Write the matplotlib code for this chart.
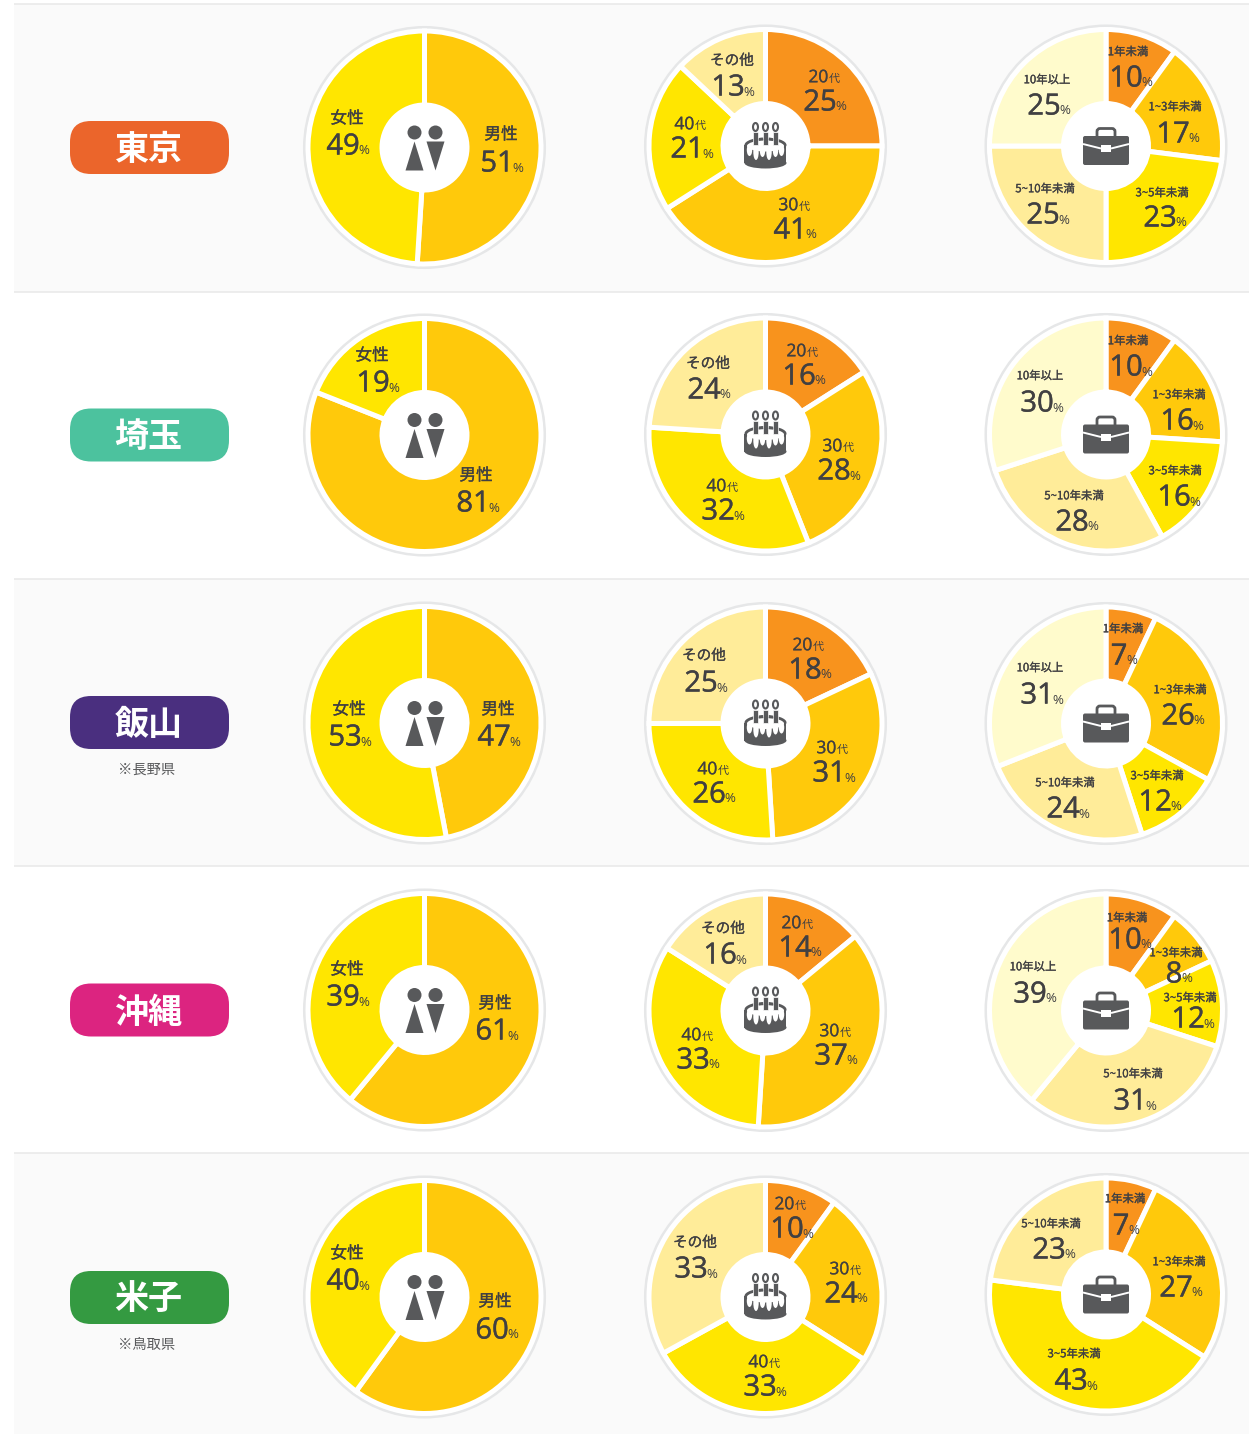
import matplotlib
matplotlib.use("Agg")
import matplotlib.pyplot as plt
import matplotlib.patheffects as pe
from matplotlib.patches import Circle, Ellipse, FancyBboxPatch, Polygon, Rectangle

# ---------- data ----------
cities = ["東京", "埼玉", "飯山", "沖縄", "米子"]
city_notes = ["", "", "※長野県", "", "※鳥取県"]
city_colors = ["#EB652B", "#4CC29E", "#4A2F7F", "#DC2480", "#349A41"]

gender_labels = ["男性", "女性"]
gender_values = [[51, 49], [81, 19], [47, 53], [61, 39], [60, 40]]

age_labels = ["20代", "30代", "40代", "その他"]
age_values = [[25, 41, 21, 13], [16, 28, 32, 24], [18, 31, 26, 25],
              [14, 37, 33, 16], [10, 24, 33, 33]]

tenure_labels = ["1年未満", "1~3年未満", "3~5年未満", "5~10年未満", "10年以上"]
tenure_values = [[10, 17, 23, 25, 25], [10, 16, 16, 28, 30], [7, 26, 12, 24, 31],
                 [10, 8, 12, 31, 39], [7, 27, 43, 23, 0]]

gender_colors = ["#FFC90B", "#FFE600"]
age_colors = ["#F8931D", "#FFC90B", "#FFE600", "#FFEC99"]
tenure_colors = ["#F8931D", "#FFC90B", "#FFE600", "#FFEC99", "#FFFBCC"]

# ---------- layout (pixel positions of the text: label x, y, number x, y) ----------
W, H = 1249, 1434
row_tops = [4, 292, 579, 866, 1153, 1434]
row_shaded = [True, False, True, False, True]
pill_y = [147.5, 435, 722.5, 1010, 1297.5]
col_x = [424.5, 765.5, 1106]
col_y = [[147.5, 435, 723, 1010, 1297], [146, 434.5, 723.5, 1010.5, 1297],
         [146, 434.5, 723.5, 1010.5, 1294.5]]

gender_pos = [
    [(501, 134, 502, 161), (347, 118, 348, 144)],
    [(476, 475, 478, 501), (372, 355, 378, 381)],
    [(498, 709, 499, 735), (349, 709, 350, 735)],
    [(495, 1003, 497, 1029), (347, 969, 348, 995)],
    [(495, 1301, 497, 1328), (347, 1253, 348, 1279)],
]
age_pos = [
    [(824, 76, 825, 100), (794, 204, 795, 228), (690, 123, 692, 147), (732, 60, 733, 85)],
    [(802, 350, 804, 374), (838, 445, 839, 469), (722, 485, 723, 509), (708, 363, 709, 388)],
    [(808, 644, 810, 668), (832, 747, 834, 771), (713, 768, 714, 792), (704, 655, 706, 681)],
    [(797, 922, 800, 946), (835, 1030, 836, 1054), (697, 1034, 698, 1058), (723, 928, 725, 953)],
    [(790, 1203, 792, 1227), (845, 1268, 846, 1292), (764, 1361, 765, 1385), (695, 1242, 696, 1267)],
]
tenure_pos = [
    [(1128, 51, 1131, 76), (1175, 106, 1178, 132), (1162, 192, 1165, 216), (1045, 188, 1048, 213), (1047, 79, 1049, 104)],
    [(1128, 340, 1131, 365), (1179, 394, 1182, 419), (1175, 470, 1179, 495), (1074, 495, 1077, 520), (1040, 375, 1042, 401)],
    [(1123, 628, 1124, 654), (1180, 689, 1183, 714), (1157, 775, 1160, 800), (1065, 782, 1068, 807), (1040, 667, 1042, 693)],
    [(1127, 917, 1130, 938), (1176, 952, 1179, 972), (1190, 997, 1193, 1017), (1133, 1073, 1135, 1099), (1033, 966, 1035, 992)],
    [(1125, 1198, 1126, 1224), (1179, 1261, 1181, 1286), (1074, 1353, 1076, 1379), (1051, 1223, 1054, 1248)],
]

INK = "#414042"
ICON = "#58595B"
CJK = "Noto Sans CJK JP"
NUM = "Open Sans"

fig = plt.figure(figsize=(W / 100, H / 100), dpi=100, facecolor="white")


def full_axes(z):
    a = fig.add_axes([0, 0, 1, 1], zorder=z)
    a.set_xlim(0, W)
    a.set_ylim(H, 0)
    a.axis("off")
    a.patch.set_alpha(0)
    return a


def heavy(lw):
    return [pe.withStroke(linewidth=lw, foreground=INK)] if lw else []


bg = full_axes(0)
top = full_axes(10)
renderer = fig.canvas.get_renderer()

for i in range(5):
    if row_shaded[i]:
        bg.add_patch(Rectangle((14, row_tops[i]), W - 14, row_tops[i + 1] - row_tops[i],
                               fc="#FAFAFA", ec="none"))
    bg.plot([14, W], [row_tops[i], row_tops[i]], color="#EAEAEA", lw=1.2, solid_capstyle="butt")


def runs(cx, cy, parts):
    """parts: (text, size, family, gap, stroke). Centre a run on cx; cy is the digit-height centre."""
    px = parts[0][1] / 0.72
    base = cy + 0.36 * px
    items = []
    for s, size, fam, gap, lw in parts:
        t = top.text(0, base, s, fontsize=size, family=fam, color=INK, ha="left", va="baseline",
                     path_effects=heavy(lw))
        items.append((t, t.get_window_extent(renderer).width, gap))
    total = sum(w + g for _, w, g in items)
    x = cx - total / 2
    for t, w, g in items:
        t.set_x(x + g)
        x += w + g


def label(x, y, s, size):
    top.text(x, y + 0.8, s, family=CJK, fontsize=size, color=INK, ha="center", va="center",
             path_effects=heavy(0.2))


def draw_pie(cx, cy, vals, colors):
    bg.add_patch(Circle((cx, cy), 120, fc="white", ec="#E6E7E8", lw=2.2))
    R = 118
    a = fig.add_axes([(cx - R) / W, 1 - (cy + R) / H, 2 * R / W, 2 * R / H], zorder=5)
    a.pie(vals, colors=colors, startangle=90, counterclock=False, radius=116.5,
          wedgeprops=dict(width=74, edgecolor="white", linewidth=3.6))
    a.set_xlim(-R, R)
    a.set_ylim(-R, R)
    a.set_aspect("equal")
    a.axis("off")
    a.patch.set_alpha(0)


def number(x, y, v):
    runs(x, y, [(str(v), 21, NUM, 0, 0.3), ("%", 9.5, NUM, -1, 0)])


def draw_person(cx, cy):
    for dx in (-10, 11):
        top.add_patch(Circle((cx + dx, cy - 15), 7, fc=ICON, ec="none"))
    top.add_patch(Polygon([(cx - 10, cy - 6), (cx - 19, cy + 23), (cx - 1, cy + 23)], fc=ICON, ec="none"))
    top.add_patch(Polygon([(cx + 2, cy - 6), (cx + 20, cy - 6), (cx + 11, cy + 23)], fc=ICON, ec="none"))


def draw_cake(cx, cy):
    top.add_patch(Ellipse((cx, cy - 1), 42, 15, fc=ICON, ec="none"))
    top.add_patch(Rectangle((cx - 21, cy - 1), 42, 18, fc=ICON, ec="none"))
    top.add_patch(Ellipse((cx, cy + 17), 42, 11, fc=ICON, ec="none"))
    top.add_patch(Ellipse((cx, cy), 37, 11, fc="white", ec="none"))
    for dx, d in [(-16, 8), (-9.5, 12), (-3, 9), (3.5, 12), (10, 9), (16, 8)]:
        top.add_patch(Ellipse((cx + dx, cy + d / 2), 5.4, d + 4, fc="white", ec="none"))
    for dx in (-10, 0, 10):
        top.add_patch(Rectangle((cx + dx - 2.2, cy - 14), 4.4, 13, fc=ICON, ec="white", lw=0.5))
        top.add_patch(Ellipse((cx + dx, cy - 19), 5, 8, fc="white", ec=ICON, lw=1.5))
    for dx in (-5, 5):
        top.plot([cx + dx - 1.5, cx + dx + 1.5], [cy - 7, cy - 7], color=ICON, lw=1)


def draw_case(cx, cy):
    top.add_patch(FancyBboxPatch((cx - 9, cy - 17.5), 18, 12, boxstyle="round,pad=0,rounding_size=3",
                                 fc="none", ec=ICON, lw=2))
    top.add_patch(FancyBboxPatch((cx - 23, cy - 10), 46, 29, boxstyle="round,pad=0,rounding_size=2",
                                 fc=ICON, ec="none"))
    top.plot([cx - 23, cx - 5], [cy - 2, cy + 2.5], color="white", lw=1.4, solid_capstyle="butt")
    top.plot([cx + 5, cx + 23], [cy + 2.5, cy - 2], color="white", lw=1.4, solid_capstyle="butt")
    top.add_patch(Rectangle((cx - 5, cy - 1), 10, 7, fc="white", ec="none"))


def small_dai(x, y, s):
    runs(x, y, [(s[:-1], 12.5, NUM, 0, 0.2), (s[-1], 8, CJK, 0, 0)])


for r in range(5):
    # city pill
    top.add_patch(FancyBboxPatch((70, pill_y[r] - 26.5), 159, 53,
                                 boxstyle="round,pad=0,rounding_size=21",
                                 fc=city_colors[r], ec="none"))
    top.text(148.5, pill_y[r] + 2, cities[r], family=CJK, fontsize=24.5, fontweight="bold",
             color="white", ha="center", va="center")
    if city_notes[r]:
        top.text(147, pill_y[r] + 47.5, city_notes[r], family=CJK, fontsize=10.3, color="#58595B",
                 ha="center", va="center")

    # gender
    draw_pie(col_x[0], col_y[0][r], gender_values[r], gender_colors)
    draw_person(col_x[0], col_y[0][r])
    for lab, v, (lx, ly, nx, ny) in zip(gender_labels, gender_values[r], gender_pos[r]):
        label(lx, ly, lab, 12)
        number(nx, ny, v)

    # age
    draw_pie(col_x[1], col_y[1][r], age_values[r], age_colors)
    draw_cake(col_x[1], col_y[1][r])
    for lab, v, (lx, ly, nx, ny) in zip(age_labels, age_values[r], age_pos[r]):
        if lab.endswith("代"):
            small_dai(lx, ly, lab)
        else:
            label(lx, ly, lab, 10.5)
        number(nx, ny, v)

    # tenure (a class with 0 is not drawn)
    shown = [(l, v, c) for l, v, c in zip(tenure_labels, tenure_values[r], tenure_colors) if v > 0]
    draw_pie(col_x[2], col_y[2][r], [s[1] for s in shown], [s[2] for s in shown])
    draw_case(col_x[2], col_y[2][r])
    for (lab, v, _), (lx, ly, nx, ny) in zip(shown, tenure_pos[r]):
        label(lx, ly, lab, 8.2)
        number(nx, ny, v)

fig.savefig("out.png", dpi=100)
